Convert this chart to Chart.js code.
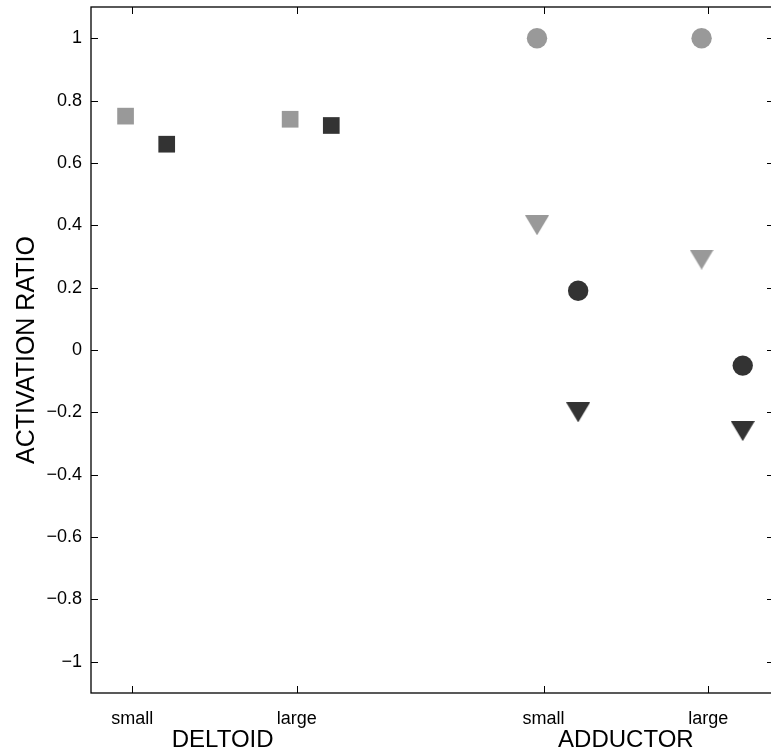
<!DOCTYPE html>
<html>
<head>
<meta charset="utf-8">
<script src="https://cdn.jsdelivr.net/npm/chart.js@4/dist/chart.umd.min.js"></script>
<style>
  html, body { margin: 0; padding: 0; background: #fff; overflow: hidden; }
  #wrap { width: 800px; height: 759px; margin-top: -5px; }
</style>
</head>
<body>
<div id="wrap"><canvas id="chart" width="800" height="759"></canvas></div>
<script>
// conditions along the x axis
const sizeLabels = ['small', 'large', 'small', 'large'];
const conditionX = [1, 2, 3.5, 4.5];
const muscles = ['DELTOID', 'ADDUCTOR'];
const yTicks = [-1, -0.8, -0.6, -0.4, -0.2, 0, 0.2, 0.4, 0.6, 0.8, 1];

// activation ratio, [small, large]
const deltoidLight = [0.75, 0.74];
const deltoidDark = [0.66, 0.72];
const adductorCircleLight = [1.0, 1.0];
const adductorCircleDark = [0.19, -0.05];
const adductorTriLight = [0.40, 0.29];
const adductorTriDark = [-0.20, -0.26];

const LIGHT = '#999999';
const DARK = '#333333';
const FONT = '"Liberation Sans", Arial, Helvetica, sans-serif';

function triangleDown(color) {
    const c = document.createElement('canvas');
    c.width = 24;
    c.height = 20;
    const g = c.getContext('2d');
    g.fillStyle = color;
    g.beginPath();
    g.moveTo(0, 0);
    g.lineTo(24, 0);
    g.lineTo(12, 20);
    g.closePath();
    g.fill();
    return c;
}

function points(values, xs, shift) {
    return values.map((v, i) => ({ x: xs[i] + shift, y: v }));
}

const deltoidX = conditionX.slice(0, 2);
const adductorX = conditionX.slice(2, 4);

function set(data, color, style, radius) {
    return {
        data: data,
        pointStyle: style,
        pointRadius: radius,
        pointHoverRadius: radius,
        pointBackgroundColor: color,
        pointBorderColor: color,
        pointBorderWidth: 0,
        showLine: false,
    };
}

const datasets = [
    set(points(deltoidLight, deltoidX, -0.04), LIGHT, 'rect', 11.8),
    set(points(deltoidDark, deltoidX, 0.21), DARK, 'rect', 11.8),
    set(points(adductorCircleLight, adductorX, -0.04), LIGHT, 'circle', 10.2),
    set(points(adductorCircleDark, adductorX, 0.21), DARK, 'circle', 10.2),
    set(points(adductorTriLight, adductorX, -0.04), LIGHT, triangleDown(LIGHT), 12),
    set(points(adductorTriDark, adductorX, 0.21), DARK, triangleDown(DARK), 12),
];

// box, inward ticks on all four sides, muscle names under the axis
const framePlugin = {
    id: 'frame',
    afterDraw(chart) {
        const ctx = chart.ctx;
        const a = chart.chartArea;
        const xs = chart.scales.x;
        const ys = chart.scales.y;
        ctx.save();
        ctx.strokeStyle = '#000';
        ctx.lineWidth = 1.3;
        ctx.strokeRect(a.left, a.top, a.right - a.left, a.bottom - a.top);
        ctx.lineWidth = 1;
        ctx.beginPath();
        yTicks.forEach((v) => {
            const y = Math.round(ys.getPixelForValue(v)) + 0.5;
            ctx.moveTo(a.left, y); ctx.lineTo(a.left + 7, y);
            ctx.moveTo(a.right, y); ctx.lineTo(a.right - 7, y);
        });
        conditionX.forEach((v) => {
            const x = Math.round(xs.getPixelForValue(v)) + 0.5;
            ctx.moveTo(x, a.bottom); ctx.lineTo(x, a.bottom - 7);
            ctx.moveTo(x, a.top); ctx.lineTo(x, a.top + 7);
        });
        ctx.stroke();

        ctx.fillStyle = '#000';
        ctx.font = '24px ' + FONT;
        ctx.textAlign = 'center';
        ctx.textBaseline = 'alphabetic';
        const labelAt = [1.55, 4.0];
        muscles.forEach((m, i) => {
            ctx.fillText(m, xs.getPixelForValue(labelAt[i]), a.bottom + 54);
        });
        ctx.restore();
    }
};

new Chart(document.getElementById('chart'), {
    type: 'scatter',
    data: { datasets: datasets },
    options: {
        responsive: false,
        animation: false,
        layout: { padding: { left: 0, top: 2, right: 26, bottom: 0 } },
        plugins: { legend: { display: false }, tooltip: { enabled: false } },
        scales: {
            x: {
                type: 'linear',
                min: 0.75,
                max: 4.9,
                grid: { display: false, drawTicks: false },
                border: { display: false },
                afterBuildTicks: (s) => { s.ticks = conditionX.map((v) => ({ value: v })); },
                afterFit: (s) => { s.height = 61; s.paddingLeft = 0; s.paddingRight = 0; },
                ticks: {
                    autoSkip: false,
                    maxRotation: 0,
                    minRotation: 0,
                    padding: 15,
                    color: '#000',
                    font: { family: FONT, size: 18 },
                    callback: (v, i) => sizeLabels[i],
                },
            },
            y: {
                min: -1.1,
                max: 1.1,
                grid: { display: false, drawTicks: false },
                border: { display: false },
                afterBuildTicks: (s) => { s.ticks = yTicks.map((v) => ({ value: v })); },
                afterFit: (s) => { s.width = 91; s.paddingTop = 0; s.paddingBottom = 0; },
                ticks: {
                    autoSkip: false,
                    padding: 9,
                    color: '#000',
                    font: { family: FONT, size: 18 },
                    callback: (v) => (v < 0 ? '\u2212' + Math.abs(v) : String(v)),
                },
                title: {
                    display: true,
                    text: 'ACTIVATION RATIO',
                    color: '#000',
                    font: { family: FONT, size: 25 },
                    padding: { top: 12, bottom: 0 },
                },
            },
        },
    },
    plugins: [framePlugin],
});
</script>
</body>
</html>
